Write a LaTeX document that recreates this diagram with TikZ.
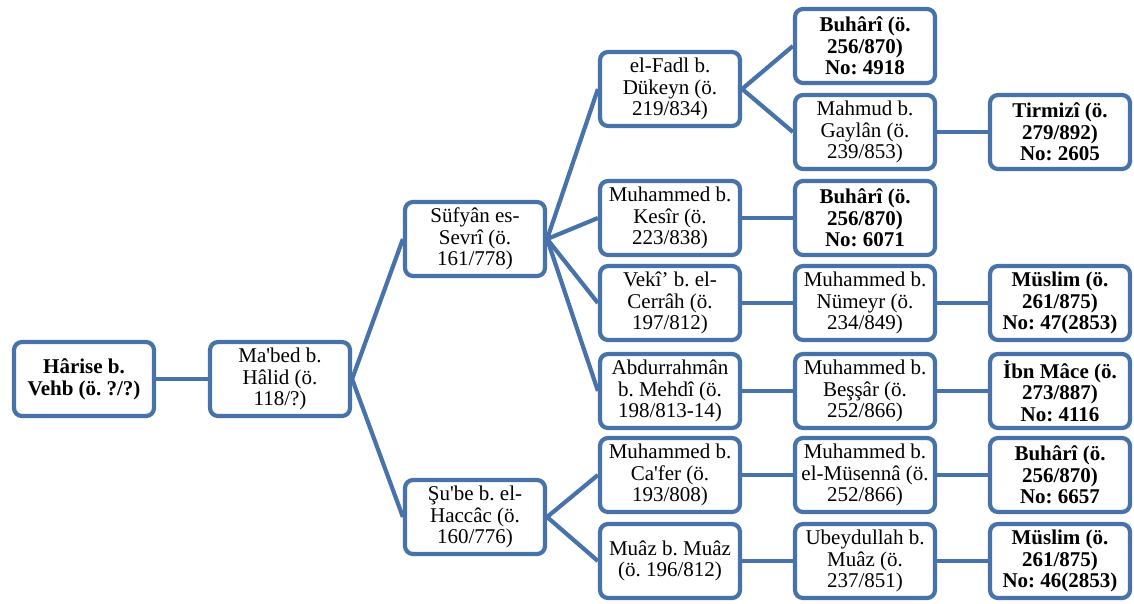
\documentclass[tikz,border=0pt]{standalone}
\usepackage{fontspec}
\setmainfont{Liberation Serif}
\definecolor{lineblue}{RGB}{72,115,170}
\begin{document}
\begin{tikzpicture}[x=1pt,y=-1pt,
  box/.style={draw=lineblue, line width=4.2pt, rounded corners=8pt, fill=white,
    minimum width=140pt, minimum height=74pt, inner sep=0pt, align=center,
    font=\fontsize{21}{21.7}\selectfont\frenchspacing},
  bbox/.style={box, font=\fontsize{21}{21.7}\selectfont\frenchspacing\bfseries},
  conn/.style={draw=lineblue, line width=4.2pt}]
\useasboundingbox (0,0) rectangle (1134,603);
% column 1-2
\node[bbox] (harise) at (84,379) {Hârise b.\\Vehb (ö. ?/?)};
\node[box] (mabed) at (280,379) {Ma\textquotesingle bed b.\\Hâlid (ö.\\118/?)};
% column 3
\node[box] (sufyan) at (475,239) {Süfyân es-\\Sevrî (ö.\\161/778)};
\node[box] (shube) at (475,517) {Şu\textquotesingle be b. el-\\Haccâc (ö.\\160/776)};
% column 4
\node[box] (fadl) at (670,89) {el-Fadl b.\\Dükeyn (ö.\\219/834)};
\node[box] (kesir) at (670,218) {Muhammed b.\\Kesîr (ö.\\223/838)};
\node[box] (veki) at (670,303) {Vekî’ b. el-\\Cerrâh (ö.\\197/812)};
\node[box] (abdur) at (670,391) {Abdurrahmân\\b. Mehdî (ö.\\198/813-14)};
\node[box] (cafer) at (670,475) {Muhammed b.\\Ca\textquotesingle fer (ö.\\193/808)};
\node[box] (muaz) at (670,561) {Muâz b. Muâz\\(ö. 196/812)};
% column 5
\node[bbox] (buh1) at (865,46) {Buhârî (ö.\\256/870)\\No: 4918};
\node[box] (mahmud) at (865,132) {Mahmud b.\\Gaylân (ö.\\239/853)};
\node[bbox] (buh2) at (865,218) {Buhârî (ö.\\256/870)\\No: 6071};
\node[box] (numeyr) at (865,303) {Muhammed b.\\Nümeyr (ö.\\234/849)};
\node[box] (bessar) at (865,391) {Muhammed b.\\Beşşâr (ö.\\252/866)};
\node[box] (musenna) at (865,475) {Muhammed b.\\el-Müsennâ (ö.\\252/866)};
\node[box] (ubeyd) at (865,561) {Ubeydullah b.\\Muâz (ö.\\237/851)};
% column 6
\node[bbox] (tirmizi) at (1060,132) {Tirmizî (ö.\\279/892)\\No: 2605};
\node[bbox] (muslim1) at (1060,303) {Müslim (ö.\\261/875)\\No: 47(2853)};
\node[bbox] (ibnmace) at (1060,391) {İbn Mâce (ö.\\273/887)\\No: 4116};
\node[bbox] (buh3) at (1060,475) {Buhârî (ö.\\256/870)\\No: 6657};
\node[bbox] (muslim2) at (1060,561) {Müslim (ö.\\261/875)\\No: 46(2853)};
% connectors
\draw[conn] (harise.east) -- (mabed.west);
\draw[conn] (mabed.east) -- (sufyan.west);
\draw[conn] (mabed.east) -- (shube.west);
\draw[conn] (sufyan.east) -- (fadl.west);
\draw[conn] (sufyan.east) -- (kesir.west);
\draw[conn] (sufyan.east) -- (veki.west);
\draw[conn] (sufyan.east) -- (abdur.west);
\draw[conn] (shube.east) -- (cafer.west);
\draw[conn] (shube.east) -- (muaz.west);
\draw[conn] (fadl.east) -- (buh1.west);
\draw[conn] (fadl.east) -- (mahmud.west);
\draw[conn] (mahmud.east) -- (tirmizi.west);
\draw[conn] (kesir.east) -- (buh2.west);
\draw[conn] (veki.east) -- (numeyr.west);
\draw[conn] (numeyr.east) -- (muslim1.west);
\draw[conn] (abdur.east) -- (bessar.west);
\draw[conn] (bessar.east) -- (ibnmace.west);
\draw[conn] (cafer.east) -- (musenna.west);
\draw[conn] (musenna.east) -- (buh3.west);
\draw[conn] (muaz.east) -- (ubeyd.west);
\draw[conn] (ubeyd.east) -- (muslim2.west);
\end{tikzpicture}
\end{document}
